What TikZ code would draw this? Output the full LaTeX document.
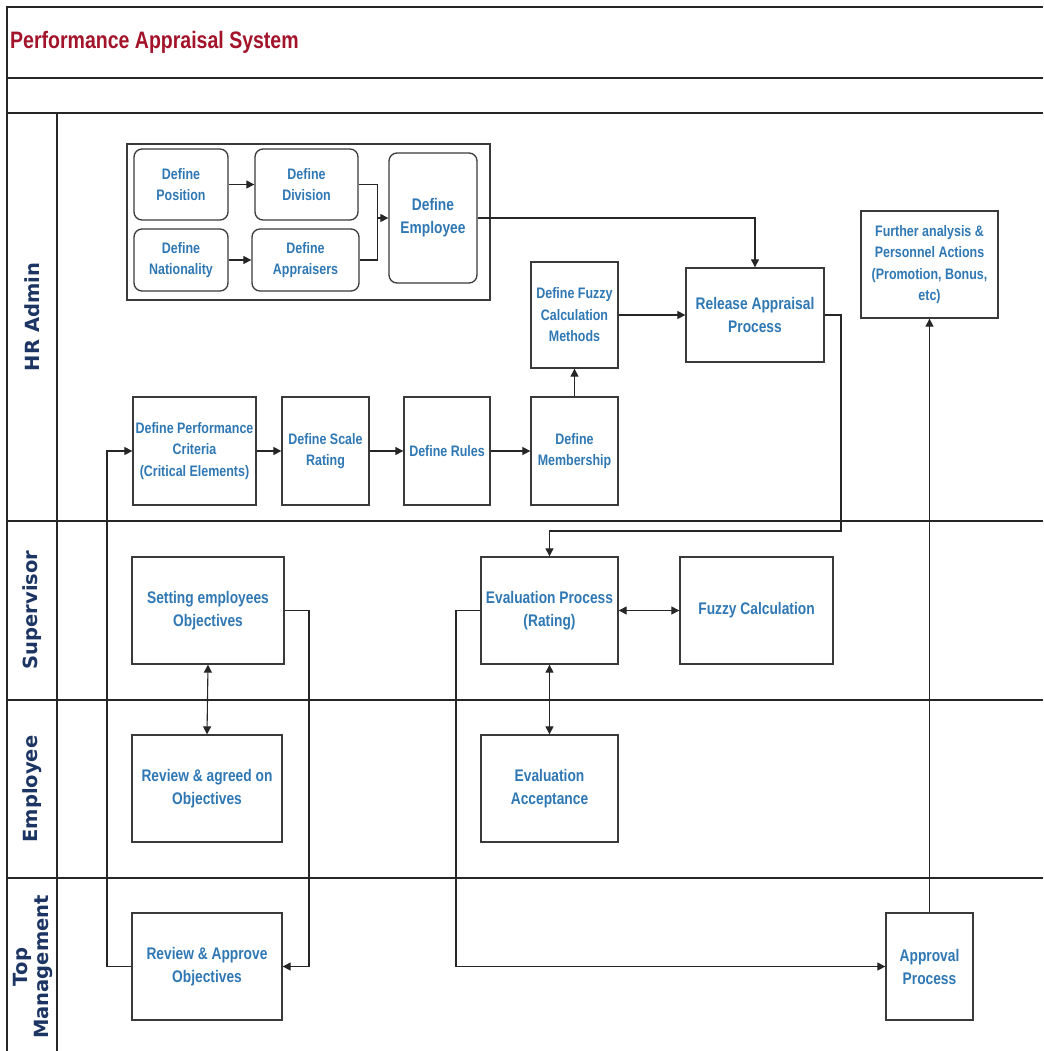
\documentclass[tikz,border=0pt]{standalone}
\usepackage{fontspec}
\usetikzlibrary{arrows.meta,calc}
\newfontfamily\nodefont[FakeStretch=0.82]{Liberation Sans}
\newfontfamily\lanefontfam{DejaVu Sans}
\definecolor{nodeblue}{HTML}{2F78B4}
\definecolor{titlered}{HTML}{A3132A}
\definecolor{lanenavy}{HTML}{1C3563}
\definecolor{boxgray}{HTML}{3A3A3A}
\begin{document}
\begin{tikzpicture}[x=1pt,y=-1pt,
  box/.style={draw=boxgray, line width=1.3pt, fill=white, align=center, inner sep=2pt,
    text=nodeblue, font=\nodefont\bfseries\fontsize{16.8}{23}\selectfont},
  smallbox/.style={box, font=\nodefont\bfseries\fontsize{15.2}{21.5}\selectfont},
  rbox/.style={smallbox, rounded corners=8pt},
  conn/.style={draw=black!85, line width=1.1pt},
  arr/.style={conn, -{Triangle[length=8pt,width=8pt]}},
  darr/.style={conn, {Triangle[length=8pt,width=8pt]}-{Triangle[length=8pt,width=8pt]}},
  lane/.style={rotate=90, text=lanenavy, align=center, font=\lanefontfam\bfseries\fontsize{19.5}{21}\selectfont},
  frame/.style={draw=black!85, line width=1.1pt},
  sep/.style={draw=black!85, line width=2pt}]
\useasboundingbox (0,0) rectangle (1043,1051);
% frame
\draw[frame] (7,1051) -- (7,7) -- (1043,7);
\draw[frame] (7,78) -- (1043,78);
\draw[frame] (7,113) -- (1043,113);
\draw[frame] (57,113) -- (57,1051);
\draw[sep] (7,521) -- (1043,521);
\draw[sep] (7,700) -- (1043,700);
\draw[sep] (7,878) -- (1043,878);
% title
\node[anchor=west, text=titlered, font=\nodefont\bfseries\fontsize{23.8}{27}\selectfont, inner sep=0pt] (title) at (10,42) {Performance Appraisal System};
% lane labels
\node[lane] (lhr) at (32,317) {HR Admin};
\node[lane] (lsup) at (32,610) {Supervisor};
\node[lane] (lemp) at (32,789) {Employee};
\node[lane] (ltop) at (33,967) {Top\\Management};
% group
\draw[draw=boxgray, line width=1.3pt] (127,144) rectangle (490,300);
% HR admin nodes
\node[rbox, minimum width=94pt, minimum height=71pt] (pos) at (181,184.5) {Define\\Position};
\node[rbox, minimum width=103pt, minimum height=71pt] (div) at (306.5,184.5) {Define\\Division};
\node[rbox, minimum width=94pt, minimum height=62pt] (nat) at (181,260) {Define\\Nationality};
\node[rbox, minimum width=107pt, minimum height=62pt] (appr) at (305.5,260) {Define\\Appraisers};
\node[box, rounded corners=8pt, minimum width=88pt, minimum height=130pt] (emp) at (433,218) {Define\\Employee};
\node[smallbox, minimum width=87pt, minimum height=106pt] (fuzzym) at (574.5,315) {Define Fuzzy\\Calculation\\Methods};
\node[box, minimum width=138pt, minimum height=94pt] (rel) at (755,315) {Release Appraisal\\Process};
\node[smallbox, minimum width=137pt, minimum height=107pt] (fur) at (929.5,264.5) {Further analysis \&\\Personnel Actions\\(Promotion, Bonus,\\etc)};
\node[smallbox, minimum width=123pt, minimum height=108pt] (perf) at (194.5,451) {Define Performance\\Criteria\\(Critical Elements)};
\node[smallbox, minimum width=87pt, minimum height=108pt] (scale) at (325.5,451) {Define Scale\\Rating};
\node[smallbox, minimum width=86pt, minimum height=108pt] (rules) at (447,451) {Define Rules};
\node[smallbox, minimum width=87pt, minimum height=108pt] (memb) at (574.5,451) {Define\\Membership};
% Supervisor
\node[box, minimum width=152pt, minimum height=107pt] (set) at (208,610.5) {Setting employees\\Objectives};
\node[box, minimum width=137pt, minimum height=107pt] (evalp) at (549.5,610.5) {Evaluation Process\\(Rating)};
\node[box, minimum width=153pt, minimum height=107pt] (fuzzyc) at (756.5,610.5) {Fuzzy Calculation};
% Employee
\node[box, minimum width=150pt, minimum height=107pt] (revag) at (207,788.5) {Review \& agreed on\\Objectives};
\node[box, minimum width=137pt, minimum height=107pt] (evacc) at (549.5,788.5) {Evaluation\\Acceptance};
% Top management
\node[box, minimum width=150pt, minimum height=107pt] (revap) at (207,966.5) {Review \& Approve\\Objectives};
\node[box, minimum width=87pt, minimum height=107pt] (appp) at (929.5,966.5) {Approval\\Process};
% connectors
\draw[arr] (pos) -- (div);
\draw[arr] (nat) -- (appr);
\coordinate (j) at ($(emp.west)+(-11,0)$);
\draw[conn] (div.east) -| (j);
\draw[conn] (appr.east) -| (j);
\draw[arr] (j) -- (emp.west);
\draw[arr] (emp.east) -| (rel.north);
\draw[arr] (fuzzym.east) -- (rel.west);
\draw[arr] (memb.north) -- (fuzzym.south);
\draw[arr] (perf.east) -- (scale.west);
\draw[arr] (scale.east) -- (rules.west);
\draw[arr] (rules.east) -- (memb.west);
\coordinate (w1) at (841,531);
\draw[arr] (rel.east) -| (w1) -| (evalp.north);
\draw[darr] (evalp.east) -- (fuzzyc.west);
\draw[darr] (set.south) -- (revag.north);
\draw[darr] (evalp.south) -- (evacc.north);
\coordinate (w2) at (309,610.5);
\draw[arr] (set.east) -- (w2) |- (revap.east);
\coordinate (w3) at (107,966.5);
\draw[arr] (revap.west) -- (w3) |- (perf.west);
\coordinate (w4) at (456,610.5);
\draw[arr] (evalp.west) -- (w4) |- (appp.west);
\draw[arr] (appp.north) -- (fur.south);
\end{tikzpicture}
\end{document}
